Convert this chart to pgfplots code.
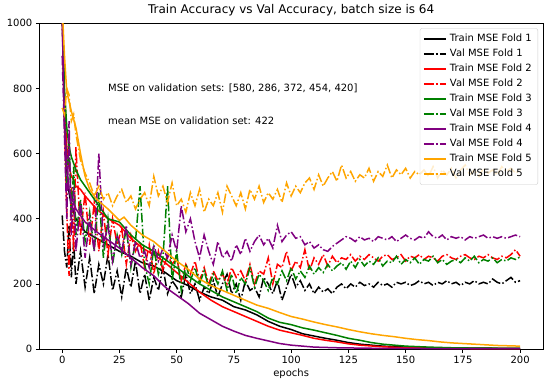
\documentclass[border=0pt]{standalone}
\usepackage{fontspec}
\setmainfont{DejaVu Sans}
\usepackage{pgfplots}
\pgfplotsset{compat=1.18}
\definecolor{mgreen}{HTML}{008000}
\definecolor{mpurple}{HTML}{800080}
\definecolor{morange}{HTML}{FFA500}
\tikzset{mdashdot/.style={dash pattern=on 9.6pt off 2.4pt on 1.5pt off 2.4pt}}
\begin{document}
\begin{tikzpicture}
\begin{axis}[
 scale only axis, width=503.6pt, height=325.7pt,
 xmin=-10, xmax=210, ymin=0, ymax=1000,
 xtick={0,25,...,200}, ytick={0,200,...,1000},
 tick align=outside, xtick pos=bottom, ytick pos=left,
 major tick length=3.5pt,
 tick style={black, line width=0.8pt},
 axis line style={line width=0.8pt},
 ticklabel style={font=\fontsize{10}{12}\selectfont},
 /pgf/number format/assume math mode=true,
 /pgf/number format/1000 sep={},
 xlabel={epochs}, xlabel style={font=\fontsize{10}{12}\selectfont, yshift=1.5pt},
 title={Train Accuracy vs Val Accuracy, batch size is 64},
 title style={font=\fontsize{12}{14}\selectfont, yshift=-2pt},
 every axis plot/.append style={line width=1.5pt},
 legend cell align=left,
 legend image code/.code={\draw[line width=2pt, mark repeat=2,mark phase=2] plot coordinates {(0pt,0pt) (11pt,0pt) (22pt,0pt)};},
 legend style={at={(1,1)}, anchor=north east, xshift=-5pt, yshift=-5pt,
   draw=black!20, fill=white, fill opacity=0.8, text opacity=1, draw opacity=1,
   rounded corners=2pt, font=\fontsize{10}{12}\selectfont,
   row sep=0pt, inner xsep=3pt, inner ysep=3pt,
   nodes={inner ysep=2.5pt, inner xsep=3pt, text height=7.5pt, text depth=2.5pt}},
]
% Fold 1
\addplot[black] coordinates {(0,1050)(1,700)(2,550)(3,480)(4,440)(5,420)(6,400)(8,380)(10,360)(15,340)(20,320)(25,300)(30,285)(35,265)(40,255)(45,235)(50,210)(55,195)(60,175)(65,160)(70,150)(75,130)(80,120)(85,105)(90,85)(95,70)(100,60)(105,47)(110,40)(115,33)(120,27)(125,20)(130,15)(135,12)(140,9)(150,6)(160,4)(175,3)(200,2)};
\addlegendentry{Train MSE Fold 1}
\addplot[black, mdashdot] coordinates {(0,410)(1,300)(2,250)(3,380)(4,220)(5,330)(6,200)(8,300)(10,190)(12,280)(14,170)(16,260)(18,200)(20,290)(22,180)(24,240)(26,160)(28,250)(30,190)(32,270)(34,170)(36,230)(38,150)(40,220)(42,180)(44,250)(46,170)(48,210)(50,190)(52,160)(54,230)(56,170)(58,200)(60,150)(62,190)(64,170)(66,210)(68,160)(70,200)(72,230)(74,170)(76,200)(78,150)(80,210)(82,180)(84,190)(86,160)(88,220)(90,200)(92,170)(94,210)(96,150)(98,190)(100,230)(102,190)(104,210)(106,180)(108,200)(110,170)(112,190)(114,175)(116,185)(118,170)(120,190)(122,200)(124,185)(126,200)(128,190)(130,205)(132,195)(134,200)(136,190)(138,205)(140,195)(142,200)(144,190)(146,205)(148,200)(150,205)(152,195)(154,200)(156,210)(158,200)(160,205)(162,195)(164,205)(166,200)(168,210)(170,200)(172,205)(174,195)(176,205)(178,200)(180,210)(182,200)(184,205)(186,200)(188,215)(190,205)(192,200)(194,210)(196,220)(198,205)(200,210)};
\addlegendentry{Val MSE Fold 1}
% Fold 2
\addplot[red] coordinates {(0,1050)(1,750)(2,620)(3,560)(4,530)(5,520)(6,500)(8,490)(10,470)(15,430)(20,400)(25,380)(30,340)(35,310)(40,290)(45,265)(50,235)(55,205)(60,175)(65,150)(70,130)(75,115)(80,100)(85,85)(90,70)(95,58)(100,50)(105,42)(110,33)(115,27)(120,22)(125,16)(130,12)(140,7)(150,4)(170,2)(200,1)};
\addlegendentry{Train MSE Fold 2}
\addplot[red, mdashdot] coordinates {(0,1020)(1,700)(2,420)(3,225)(4,500)(5,300)(6,620)(8,350)(10,480)(12,320)(14,450)(16,300)(18,420)(20,290)(22,400)(24,320)(26,370)(28,260)(30,350)(32,300)(34,330)(36,250)(38,320)(40,230)(42,300)(44,240)(46,290)(48,260)(50,280)(52,210)(54,260)(56,230)(58,270)(60,210)(62,250)(64,200)(66,240)(68,210)(70,230)(72,200)(74,250)(76,220)(78,240)(80,210)(82,260)(84,200)(86,240)(88,230)(90,280)(92,200)(94,260)(96,250)(98,300)(100,240)(102,270)(104,250)(106,305)(108,240)(110,280)(112,260)(114,290)(116,255)(118,285)(120,265)(122,280)(124,275)(126,290)(128,270)(130,285)(132,275)(134,290)(136,280)(138,270)(140,285)(142,290)(144,275)(146,280)(148,290)(150,270)(152,285)(154,280)(156,290)(158,275)(160,285)(162,280)(164,270)(166,285)(168,290)(170,280)(172,275)(174,285)(176,290)(178,280)(180,275)(182,285)(184,280)(186,290)(188,280)(190,275)(192,285)(194,280)(196,290)(198,305)(200,285)};
\addlegendentry{Val MSE Fold 2}
% Fold 3
\addplot[mgreen] coordinates {(0,1050)(1,800)(2,680)(3,620)(4,590)(5,570)(6,550)(8,520)(10,500)(15,450)(20,400)(25,390)(30,350)(35,320)(40,300)(45,275)(50,250)(55,225)(60,200)(65,180)(70,160)(75,145)(80,130)(85,115)(90,95)(95,82)(100,75)(105,65)(110,58)(115,50)(120,42)(125,33)(130,27)(135,20)(140,15)(145,12)(150,9)(160,6)(170,4)(180,3)(200,2)};
\addlegendentry{Train MSE Fold 3}
\addplot[mgreen, mdashdot] coordinates {(0,1020)(1,760)(2,500)(3,650)(4,400)(5,560)(6,350)(8,460)(10,330)(12,420)(14,300)(16,480)(18,280)(20,400)(22,260)(24,350)(26,290)(28,370)(30,250)(32,330)(34,500)(36,260)(38,200)(40,310)(42,230)(44,280)(46,500)(48,210)(50,300)(52,180)(54,260)(56,210)(58,250)(60,200)(62,240)(64,190)(66,230)(68,200)(70,240)(72,180)(74,230)(76,170)(78,220)(80,200)(82,250)(84,190)(86,230)(88,210)(90,180)(92,220)(94,200)(96,240)(98,210)(100,250)(102,215)(104,240)(106,220)(108,255)(110,230)(112,250)(114,235)(116,260)(118,240)(120,255)(122,265)(124,245)(126,270)(128,250)(130,275)(132,255)(134,270)(136,260)(138,280)(140,255)(142,270)(144,265)(146,285)(148,260)(150,275)(152,265)(154,280)(156,260)(158,275)(160,270)(162,285)(164,265)(166,275)(168,260)(170,270)(172,275)(174,265)(176,280)(178,270)(180,285)(182,265)(184,275)(186,270)(188,280)(190,265)(192,275)(194,270)(196,280)(198,275)(200,283)};
\addlegendentry{Val MSE Fold 3}
% Fold 4
\addplot[mpurple] coordinates {(0,1000)(1,700)(2,560)(3,490)(4,460)(5,450)(6,430)(8,410)(10,390)(15,360)(20,335)(25,310)(30,280)(35,250)(40,225)(45,190)(50,165)(55,140)(60,110)(65,90)(70,70)(75,55)(80,42)(85,33)(90,25)(95,17)(100,12)(105,9)(110,6)(120,4)(140,2)(200,1)};
\addlegendentry{Train MSE Fold 4}
\addplot[mpurple, mdashdot] coordinates {(0,900)(1,650)(2,400)(3,700)(4,350)(5,500)(6,300)(8,450)(10,280)(12,400)(14,300)(16,600)(18,320)(20,380)(22,270)(24,350)(26,300)(28,380)(30,260)(32,330)(34,280)(36,300)(38,250)(40,320)(42,270)(44,310)(46,280)(48,350)(50,300)(52,440)(54,360)(56,400)(58,330)(60,280)(62,350)(64,300)(66,260)(68,330)(70,280)(72,300)(74,270)(76,320)(78,290)(80,340)(82,300)(84,330)(86,350)(88,320)(90,340)(92,310)(94,380)(96,330)(98,350)(100,360)(102,340)(104,345)(106,320)(108,330)(110,310)(112,320)(114,305)(116,300)(118,315)(120,325)(122,335)(124,345)(126,340)(128,330)(130,345)(132,335)(134,340)(136,330)(138,345)(140,340)(142,335)(144,345)(146,330)(148,340)(150,350)(152,340)(154,335)(156,345)(158,340)(160,360)(162,345)(164,340)(166,350)(168,335)(170,345)(172,340)(174,345)(176,335)(178,345)(180,340)(182,345)(184,350)(186,340)(188,345)(190,340)(192,345)(194,340)(196,345)(198,350)(200,345)};
\addlegendentry{Val MSE Fold 4}
% Fold 5
\addplot[morange] coordinates {(0,1050)(1,900)(2,790)(4,730)(6,680)(8,600)(10,530)(12,490)(15,460)(20,430)(25,395)(27,405)(30,380)(35,350)(40,330)(45,300)(50,270)(55,245)(60,215)(65,195)(70,180)(75,165)(80,150)(85,135)(90,125)(95,112)(100,100)(105,92)(110,83)(115,75)(120,68)(125,60)(130,53)(135,47)(140,42)(145,38)(150,33)(155,29)(160,26)(165,22)(170,19)(175,17)(180,15)(185,13)(190,11)(195,10)(200,9)};
\addlegendentry{Train MSE Fold 5}
\addplot[morange, mdashdot] coordinates {(0,740)(1,720)(2,800)(3,780)(4,700)(5,720)(6,660)(8,580)(10,540)(12,510)(14,470)(16,500)(18,460)(20,480)(22,440)(24,470)(26,490)(28,450)(30,470)(32,430)(34,460)(36,480)(38,440)(40,530)(42,470)(44,500)(46,450)(48,510)(50,440)(52,460)(54,420)(56,480)(58,440)(60,490)(62,420)(64,460)(66,440)(68,480)(70,420)(72,500)(74,470)(76,440)(78,480)(80,430)(82,490)(84,460)(86,500)(88,450)(90,480)(92,460)(94,490)(96,450)(98,510)(100,470)(102,500)(104,480)(106,510)(108,525)(110,490)(112,535)(114,500)(116,525)(118,545)(120,515)(122,565)(124,525)(126,545)(128,515)(130,535)(132,525)(134,555)(136,515)(138,545)(140,530)(142,565)(144,525)(146,550)(148,535)(150,555)(152,525)(154,545)(156,535)(158,550)(160,530)(162,560)(164,525)(166,550)(168,535)(170,555)(172,525)(174,550)(176,565)(178,535)(180,550)(182,530)(184,555)(186,540)(188,550)(190,535)(192,560)(194,545)(196,555)(198,540)(200,550)};
\addlegendentry{Val MSE Fold 5}
\node[anchor=west, font=\fontsize{10}{12}\selectfont, inner sep=0pt] at (axis cs:20,800) {MSE on validation sets: [580, 286, 372, 454, 420]};
\node[anchor=west, font=\fontsize{10}{12}\selectfont, inner sep=0pt] at (axis cs:20,700) {mean MSE on validation set: 422};
\end{axis}
\path ([xshift=-39.3pt,yshift=-38pt]current axis.south west) rectangle ([xshift=5pt,yshift=23.3pt]current axis.north east);
\end{tikzpicture}
\end{document}
